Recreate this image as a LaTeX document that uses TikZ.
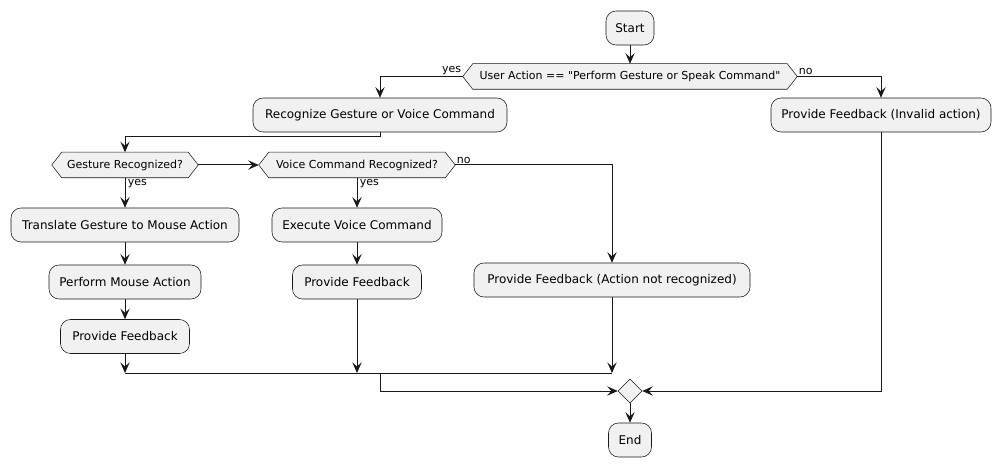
\documentclass[tikz,border=0pt]{standalone}
\usepackage{fontspec}
\setmainfont{DejaVu Sans}[Ligatures=TeXOff]
\usetikzlibrary{arrows.meta,shapes.geometric,backgrounds,calc}
\definecolor{boxfill}{HTML}{F1F1F1}
\definecolor{boxline}{HTML}{181818}
\newcommand\bxfont{\fontsize{9}{11}\selectfont}
\newcommand\smfont{\fontsize{8.25}{10}\selectfont}
\newcommand\hexa[1]{%
  \begin{pgfonlayer}{background}
  \draw[hexdraw] (#1.west) -- ([xshift=7.5pt]#1.north west) -- ([xshift=-7.5pt]#1.north east)
    -- (#1.east) -- ([xshift=-7.5pt]#1.south east) -- ([xshift=7.5pt]#1.south west) -- cycle;
  \end{pgfonlayer}}
\tikzset{
  actbox/.style={rounded corners=7.5pt, draw=boxline, fill=boxfill, line width=0.4pt,
    minimum width=#1*0.75pt, minimum height=25.5pt, inner sep=0pt, font=\bxfont},
  hexnode/.style={minimum width=#1*0.75pt, minimum height=18.75pt, inner sep=0pt, font=\smfont},
  hexdraw/.style={draw=boxline, fill=boxfill, line width=0.4pt},
  mergenode/.style={diamond, aspect=1, draw=boxline, fill=boxfill, line width=0.4pt,
    minimum width=18pt, minimum height=18pt, inner sep=0pt},
  flow/.style={draw=boxline, line width=0.75pt, -{Stealth[length=8pt,width=7pt,inset=3.2pt]}},
  plain/.style={draw=boxline, line width=0.75pt},
  elabel/.style={font=\smfont, inner sep=1pt}
}
\begin{document}
\begin{tikzpicture}[x=0.75pt,y=-0.75pt]
\useasboundingbox (0,0) rectangle (1001,467);
% nodes
\node[actbox=48] (start) at (630,28) {Start};
\node[hexnode=334] (d1) at (630,76.5) {User Action == "Perform Gesture or Speak Command"};
\hexa{d1}
\node[actbox=254] (rec) at (380,115) {Recognize Gesture or Voice Command};
\node[actbox=220] (inv) at (881,115) {Provide Feedback (Invalid action)};
\node[hexnode=146] (d2) at (125,165) {Gesture Recognized?};
\hexa{d2}
\node[hexnode=196] (d3) at (357,165) {Voice Command Recognized?};
\hexa{d3}
\node[actbox=228] (tr) at (125,225) {Translate Gesture to Mouse Action};
\node[actbox=170] (ex) at (357,225) {Execute Voice Command};
\node[actbox=152] (pm) at (125,282) {Perform Mouse Action};
\node[actbox=129] (pf2) at (357,282) {Provide Feedback};
\node[actbox=129] (pf1) at (125,336.5) {Provide Feedback};
\node[actbox=276] (anr) at (612,280) {Provide Feedback (Action not recognized)};
\node[mergenode] (mg) at (630,391) {};
\node[actbox=43] (end) at (630,440) {End};
% coordinates
\coordinate (b1) at (380,137);
\coordinate (m1) at (125,373);
\coordinate (m4) at (380,373);
% connectors
\draw[flow] (start) -- (d1);
\draw[flow] (d1.west) -| (rec.north);
\draw[flow] (d1.east) -| (inv.north);
\node[elabel, anchor=south east] at (d1.west) {yes};
\node[elabel, anchor=south west] at (d1.east) {no};
\draw[flow] (rec.south) -- (b1) -| (d2.north);
\draw[flow] (d2.east) -- (d3.west);
\draw[flow] (d2.south) -- (tr.north);
\node[elabel, anchor=north west, xshift=1pt] at (d2.south) {yes};
\draw[flow] (d3.south) -- (ex.north);
\node[elabel, anchor=north west, xshift=1pt] at (d3.south) {yes};
\draw[flow] (d3.east) -| (anr.north);
\node[elabel, anchor=south west] at (d3.east) {no};
\draw[flow] (tr) -- (pm);
\draw[flow] (pm) -- (pf1);
\draw[flow] (ex) -- (pf2);
\draw[flow] (pf1.south) -- (m1);
\draw[flow] (pf2.south) -- (pf2.south |- m1);
\draw[flow] (anr.south) -- (anr.south |- m1);
\draw[plain] (m1) -- (anr.south |- m1);
\draw[flow] (m4) |- (mg.west);
\draw[flow] (inv.south) |- (mg.east);
\draw[flow] (mg) -- (end);
\end{tikzpicture}
\end{document}
